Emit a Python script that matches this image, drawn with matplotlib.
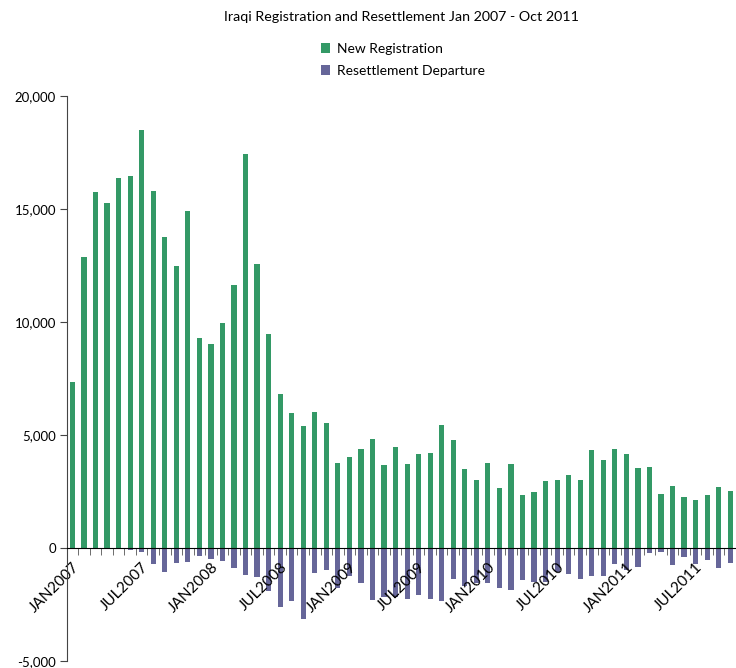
import matplotlib.pyplot as plt
from matplotlib.ticker import FuncFormatter, MultipleLocator

plt.rcParams['font.family'] = ['Lato', 'DejaVu Sans']

# monthly values Jan 2007 - Oct 2011
new_registration = [
    7350, 12870, 15740, 15260, 16360, 16450, 18480, 15790, 13760, 12470,
    14900, 9290, 9030, 9960, 11640, 17420, 12560, 9470, 6820, 5980,
    5400, 6020, 5540, 3770, 4030, 4390, 4830, 3680, 4480, 3730,
    4170, 4210, 5450, 4790, 3500, 3020, 3770, 2670, 3730, 2360,
    2490, 2980, 3020, 3240, 3020, 4350, 3900, 4390, 4170, 3550,
    3590, 2400, 2750, 2270, 2140, 2360, 2710, 2530,
]
resettlement_departure = [
    0, 0, 0, 0, 0, -70, -160, -690, -1045, -650,
    -600, -340, -470, -560, -870, -1180, -1270, -1885, -2590, -2330,
    -3120, -1090, -960, -1750, -1220, -1530, -2280, -2150, -2150, -2240,
    -2060, -2240, -2330, -1355, -1700, -1530, -1530, -1750, -1840, -1400,
    -1490, -1490, -1046, -1134, -1355, -1222, -1222, -692, -957, -825,
    -206, -162, -736, -383, -692, -515, -869, -648,
]
tick_labels = ['JAN2007', 'JUL2007', 'JAN2008', 'JUL2008', 'JAN2009',
               'JUL2009', 'JAN2010', 'JUL2010', 'JAN2011', 'JUL2011']

x = list(range(len(new_registration)))

fig = plt.figure(figsize=(7.36, 6.68), dpi=100)
ax = fig.add_axes([67 / 736, 7 / 668, 1 - 67 / 736, 565 / 668])

ax.bar(x, new_registration, width=0.45, color='#339966', label='New Registration')
ax.bar(x, resettlement_departure, width=0.45, color='#666699', label='Resettlement Departure')

ax.set_xlim(-0.47, 57.15)
ax.set_ylim(-5000, 20000)

ax.spines['top'].set_visible(False)
ax.spines['right'].set_visible(False)
ax.spines['left'].set_color('#444444')
ax.spines['bottom'].set_position(('data', 0))
ax.spines['bottom'].set_color('black')

ax.yaxis.set_major_locator(MultipleLocator(5000))
ax.yaxis.set_major_formatter(FuncFormatter(lambda v, p: f'{int(v):,}'))
ax.tick_params(axis='y', length=5, color='#444444', labelsize=9.5, pad=3)

ax.set_xticks(range(0, len(x), 6))
ax.set_xticklabels(tick_labels, rotation=45, ha='right', rotation_mode='anchor')
ax.set_xticks([i + 0.5 for i in x], minor=True)
ax.tick_params(axis='x', which='major', length=0, labelsize=11, pad=9)
ax.tick_params(axis='x', which='minor', length=5, color='#555555', direction='out')

fig.text(402 / 736, 1 - 17 / 668, 'Iraqi Registration and Resettlement Jan 2007 - Oct 2011',
         fontsize=10.3, ha='center', va='center')

fig.legend(loc='upper left', bbox_to_anchor=(308 / 736, 1 - 30 / 668),
           frameon=False, fontsize=10, handlelength=0.7, handleheight=0.7,
           handletextpad=0.5, labelspacing=0.75)

fig.savefig('out.png', dpi=100)
